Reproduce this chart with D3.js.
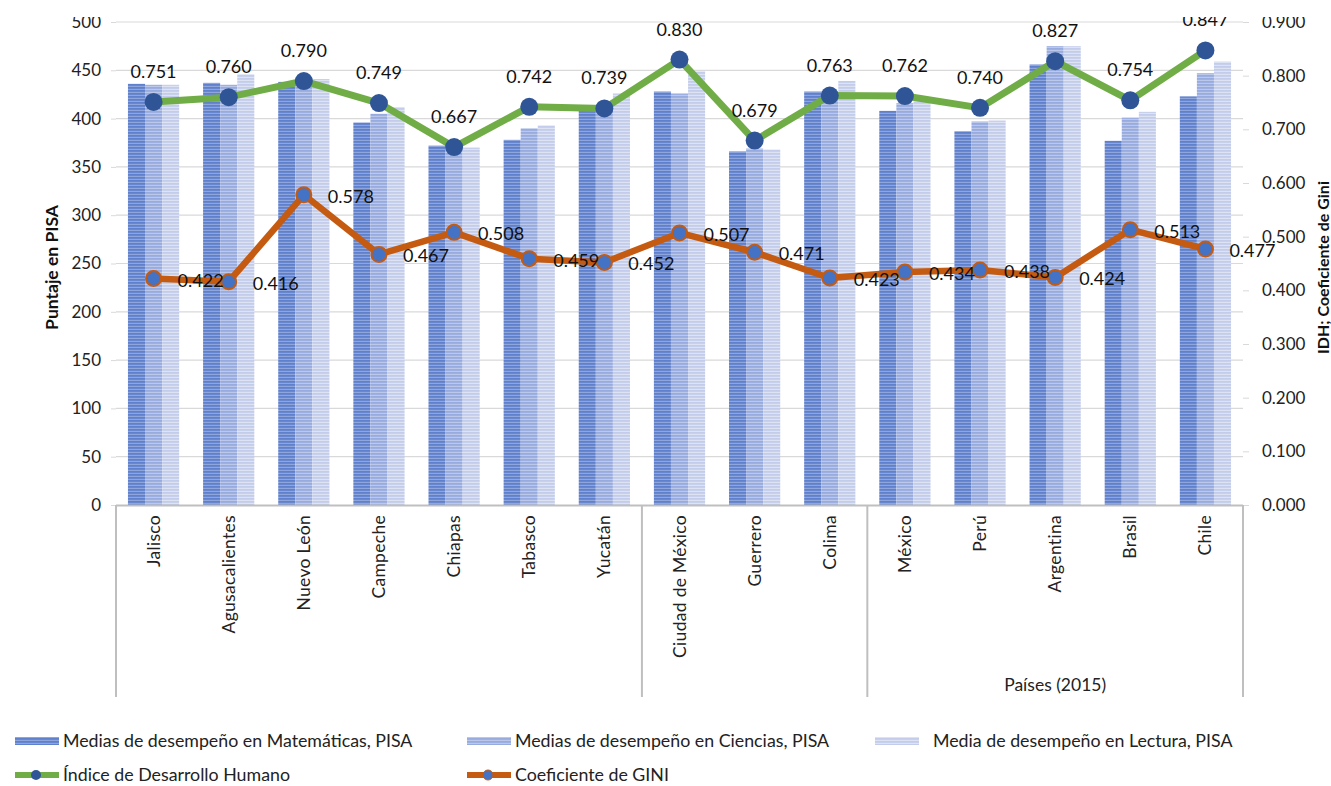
<!DOCTYPE html>
<html>
<head>
<meta charset="utf-8">
<script src="https://cdn.jsdelivr.net/npm/d3@7"></script>
<style>
  html, body { margin: 0; padding: 0; background: #ffffff; }
  svg { display: block; font-family: Lato, "Open Sans", sans-serif; }
</style>
</head>
<body>
<svg id="chart" width="1331" height="786"></svg>
<script>
// Categories: Mexican states and countries
const categories = ["Jalisco", "Agusacalientes", "Nuevo León", "Campeche", "Chiapas", "Tabasco", "Yucatán",
  "Ciudad de México", "Guerrero", "Colima", "México", "Perú", "Argentina", "Brasil", "Chile"];

// Group boundaries along the category axis (start index, end index, label)
const groups = [
  { from: 0, to: 7, label: "" },
  { from: 7, to: 10, label: "" },
  { from: 10, to: 15, label: "Países (2015)" }
];

// PISA mean scores
const matematicas = [436, 437, 438, 396, 372, 378, 408, 428, 366, 428, 408, 387, 456, 377, 423];
const ciencias    = [435, 435, 441, 405, 371, 390, 412, 426, 369, 428, 416, 397, 475, 401, 447];
const lectura     = [435, 446, 441, 412, 370, 393, 426, 449, 368, 439, 419, 398, 475, 407, 459];

// Human Development Index and Gini coefficient
const idh  = [0.751, 0.760, 0.790, 0.749, 0.667, 0.742, 0.739, 0.830, 0.679, 0.763, 0.762, 0.740, 0.827, 0.754, 0.847];
const gini = [0.422, 0.416, 0.578, 0.467, 0.508, 0.459, 0.452, 0.507, 0.471, 0.423, 0.434, 0.438, 0.424, 0.513, 0.477];

// Axis ticks
const leftTicks  = [0, 50, 100, 150, 200, 250, 300, 350, 400, 450, 500];
const rightTicks = [0, 0.1, 0.2, 0.3, 0.4, 0.5, 0.6, 0.7, 0.8, 0.9];

const barSeries = [
  { name: "Medias de desempeño en Matemáticas, PISA", values: matematicas, id: "pMat", base: "#5f80cc", stripe: "#8fa6dc" },
  { name: "Medias de desempeño en Ciencias, PISA",    values: ciencias,    id: "pCie", base: "#97abdf", stripe: "#bcc8ea" },
  { name: "Media de desempeño en Lectura, PISA",      values: lectura,     id: "pLec", base: "#c3cdeb", stripe: "#dde3f3" }
];

const svg = d3.select("#chart");
const W = 1331, H = 786;
const plot = { left: 116, right: 1243, top: 22, bottom: 505 };

// Striped fills for the bars
const defs = svg.append("defs");
barSeries.forEach(s => {
  const p = defs.append("pattern").attr("id", s.id)
    .attr("patternUnits", "userSpaceOnUse").attr("width", 4).attr("height", 3);
  p.append("rect").attr("width", 4).attr("height", 3).attr("fill", s.stripe);
  p.append("rect").attr("width", 4).attr("height", 1.8).attr("fill", s.base);
});
defs.append("clipPath").attr("id", "frame")
  .append("rect").attr("x", 0).attr("y", 17).attr("width", W).attr("height", H - 17);

const root = svg.append("g").attr("clip-path", "url(#frame)");

const x = d3.scaleBand().domain(categories).range([plot.left, plot.right]).paddingInner(0).paddingOuter(0);
const xInner = d3.scaleBand().domain(barSeries.map(s => s.id)).range([0, x.bandwidth()]).paddingOuter(0.7).paddingInner(0);
const yL = d3.scaleLinear().domain([0, 500]).range([plot.bottom, plot.top]);
const yR = d3.scaleLinear().domain([0, 0.9]).range([plot.bottom, plot.top]);

// Gridlines
root.append("g").selectAll("line").data(leftTicks.filter(d => d > 0)).join("line")
  .attr("x1", plot.left).attr("x2", plot.right)
  .attr("y1", d => yL(d)).attr("y2", d => yL(d))
  .attr("stroke", "#d9d9d9").attr("stroke-width", 1.2);

// Left axis
const axL = root.append("g").attr("transform", `translate(${plot.left},0)`)
  .call(d3.axisLeft(yL).tickValues(leftTicks).tickSize(5).tickPadding(10));
axL.select(".domain").remove();
axL.selectAll(".tick line").attr("stroke", "#d9d9d9");
axL.selectAll(".tick text").attr("font-size", 17).attr("fill", "#222").attr("font-family", "Lato");

// Right axis
const axR = root.append("g").attr("transform", `translate(${plot.right},0)`)
  .call(d3.axisRight(yR).tickValues(rightTicks).tickSize(6).tickPadding(13).tickFormat(d3.format(".3f")));
axR.select(".domain").remove();
axR.selectAll(".tick line").attr("stroke", "#d9d9d9");
axR.selectAll(".tick text").attr("font-size", 17).attr("fill", "#222").attr("font-family", "Lato");

// Bars
const barG = root.append("g");
barSeries.forEach(s => {
  barG.append("g").selectAll("rect").data(s.values).join("rect")
    .attr("x", (d, i) => x(categories[i]) + xInner(s.id))
    .attr("y", d => yL(d))
    .attr("width", xInner.bandwidth())
    .attr("height", d => yL(0) - yL(d))
    .attr("fill", `url(#${s.id})`);
});

// Category axis with group separators
root.append("line").attr("x1", plot.left).attr("x2", plot.right)
  .attr("y1", plot.bottom + 0.5).attr("y2", plot.bottom + 0.5)
  .attr("stroke", "#bfbfbf").attr("stroke-width", 2);
const sepIdx = [0, ...groups.map(g => g.to)];
root.append("g").selectAll("line").data(sepIdx).join("line")
  .attr("x1", i => i < categories.length ? x(categories[i]) : plot.right)
  .attr("x2", i => i < categories.length ? x(categories[i]) : plot.right)
  .attr("y1", plot.bottom).attr("y2", 697)
  .attr("stroke", "#bfbfbf").attr("stroke-width", 2);

root.append("g").selectAll("text").data(categories).join("text")
  .attr("transform", d => `translate(${x(d) + x.bandwidth() / 2 + 6},515) rotate(-90)`)
  .attr("text-anchor", "end").attr("font-size", 17.5).attr("letter-spacing", 0.3).attr("fill", "#222")
  .text(d => d);

root.append("g").selectAll("text").data(groups).join("text")
  .attr("x", g => (x(categories[g.from]) + (g.to < categories.length ? x(categories[g.to]) : plot.right)) / 2)
  .attr("y", 691).attr("text-anchor", "middle").attr("font-size", 17.5).attr("fill", "#222")
  .text(g => g.label);

// Axis titles
root.append("text").attr("transform", `translate(58,${(plot.top + plot.bottom) / 2 + 4}) rotate(-90)`)
  .attr("text-anchor", "middle").attr("font-size", 17.5).attr("font-weight", "bold").attr("fill", "#111")
  .text("Puntaje en PISA");
root.append("text").attr("transform", `translate(1329,${(plot.top + plot.bottom) / 2 + 4}) rotate(-90)`)
  .attr("text-anchor", "middle").attr("font-size", 16).attr("font-weight", "bold").attr("fill", "#111")
  .text("IDH; Coeficiente de Gini");

// Lines
const lineGen = vals => d3.line().x((d, i) => x(categories[i]) + x.bandwidth() / 2).y(d => yR(d))(vals);

root.append("path").attr("d", lineGen(gini)).attr("fill", "none")
  .attr("stroke", "#c55a11").attr("stroke-width", 6.5).attr("stroke-linejoin", "round");
root.append("g").selectAll("circle").data(gini).join("circle")
  .attr("cx", (d, i) => x(categories[i]) + x.bandwidth() / 2).attr("cy", d => yR(d))
  .attr("r", 7.5).attr("fill", "#4472c4").attr("stroke", "#c55a11").attr("stroke-width", 2);

root.append("path").attr("d", lineGen(idh)).attr("fill", "none")
  .attr("stroke", "#70ad47").attr("stroke-width", 7).attr("stroke-linejoin", "round");
root.append("g").selectAll("circle").data(idh).join("circle")
  .attr("cx", (d, i) => x(categories[i]) + x.bandwidth() / 2).attr("cy", d => yR(d))
  .attr("r", 9).attr("fill", "#2f5597");

// Data labels
const fmt = d3.format(".3f");
root.append("g").selectAll("text").data(idh).join("text")
  .attr("x", (d, i) => x(categories[i]) + x.bandwidth() / 2).attr("y", d => yR(d) - 24)
  .attr("text-anchor", "middle").attr("font-size", 18).attr("fill", "#111")
  .text(d => fmt(d));
root.append("g").selectAll("text").data(gini).join("text")
  .attr("x", (d, i) => x(categories[i]) + x.bandwidth() / 2 + 24).attr("y", d => yR(d) + 8)
  .attr("text-anchor", "start").attr("font-size", 18).attr("fill", "#111")
  .text(d => fmt(d));

// Legend
const leg = svg.append("g").attr("font-size", 17.8).attr("fill", "#222");
const legPos = [{ x: 15, y: 741 }, { x: 467, y: 741 }, { x: 875, y: 741 }];
barSeries.forEach((s, i) => {
  const g = leg.append("g").attr("transform", `translate(${legPos[i].x},${legPos[i].y})`);
  g.append("rect").attr("x", 0).attr("y", -4).attr("width", 44).attr("height", 8).attr("fill", `url(#${s.id})`);
  g.append("text").attr("x", i === 2 ? 58 : 48).attr("y", 6).text(s.name);
});
const lineLegend = [
  { name: "Índice de Desarrollo Humano", x: 15, color: "#70ad47", dot: "#2f5597", stroke: "none" },
  { name: "Coeficiente de GINI", x: 467, color: "#c55a11", dot: "#4472c4", stroke: "#c55a11" }
];
lineLegend.forEach(l => {
  const g = leg.append("g").attr("transform", `translate(${l.x},775)`);
  g.append("line").attr("x1", 0).attr("x2", 44).attr("y1", 0).attr("y2", 0)
    .attr("stroke", l.color).attr("stroke-width", 6);
  g.append("circle").attr("cx", 21).attr("cy", 0).attr("r", 5).attr("fill", l.dot)
    .attr("stroke", l.stroke).attr("stroke-width", 1);
  g.append("text").attr("x", 48).attr("y", 6).text(l.name);
});
</script>
</body>
</html>
